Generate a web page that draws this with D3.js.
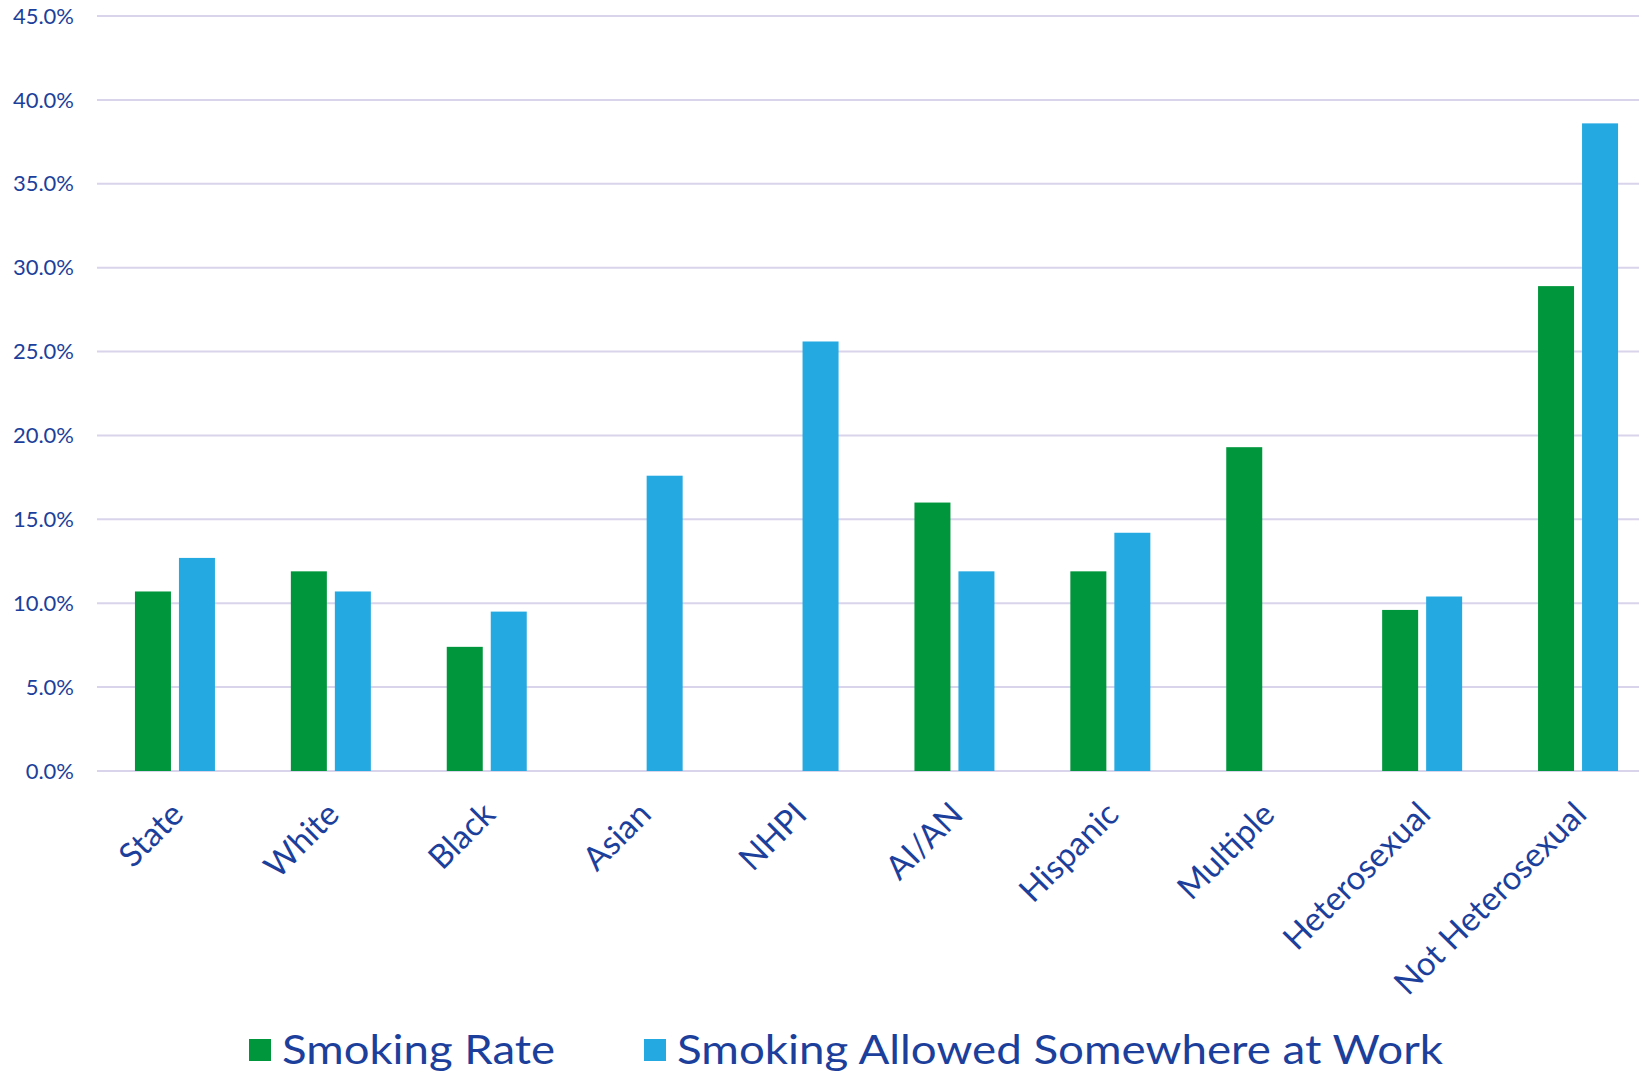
<!DOCTYPE html>
<html>
<head>
<meta charset="utf-8">
<script src="https://cdn.jsdelivr.net/npm/d3@7"></script>
<style>
  body { margin: 0; background: #fff; }
  svg { display: block; }
</style>
</head>
<body>
<div id="chart"></div>
<script>
const categories = ["State", "White", "Black", "Asian", "NHPI", "AI/AN", "Hispanic", "Multiple", "Heterosexual", "Not Heterosexual"];
const smokingRate = [10.7, 11.9, 7.4, null, null, 16.0, 11.9, 19.3, 9.6, 28.9];
const smokingAllowed = [12.7, 10.7, 9.5, 17.6, 25.6, 11.9, 14.2, null, 10.4, 38.6];
const seriesNames = ["Smoking Rate", "Smoking Allowed Somewhere at Work"];
const yTicks = [0, 5, 10, 15, 20, 25, 30, 35, 40, 45];

const width = 1639, height = 1074;
const textColor = "#1d3f9c";
const colors = ["#00963b", "#24a9e0"];
const font = "Lato, 'Open Sans', sans-serif";

const svg = d3.select("#chart").append("svg")
    .attr("width", width)
    .attr("height", height);

const x = d3.scaleBand()
    .domain(categories)
    .range([97, 1656])
    .paddingInner(0)
    .paddingOuter(0);

const y = d3.scaleLinear()
    .domain([0, 45])
    .range([771, 16]);

// grid lines
svg.append("g")
    .selectAll("line")
    .data(yTicks)
    .enter()
    .append("line")
    .attr("x1", 97)
    .attr("x2", width)
    .attr("y1", d => y(d))
    .attr("y2", d => y(d))
    .attr("stroke", "#d9d4ec")
    .attr("stroke-width", 2);

// y labels
svg.append("g")
    .selectAll("text")
    .data(yTicks)
    .enter()
    .append("text")
    .attr("x", 74)
    .attr("y", d => y(d))
    .attr("dy", "0.35em")
    .attr("text-anchor", "end")
    .attr("font-family", font)
    .attr("font-size", 22)
    .attr("fill", textColor)
    .text(d => d.toFixed(1) + "%");

const barWidth = 36, gap = 8;
const series = [smokingRate, smokingAllowed];

series.forEach(function(values, s) {
    svg.append("g")
        .selectAll("rect")
        .data(values.map((v, i) => ({ cat: categories[i], v: v })).filter(d => d.v !== null))
        .enter()
        .append("rect")
        .attr("fill", colors[s])
        .attr("x", function(d) {
            const c = x(d.cat) + x.bandwidth() / 2;
            return s === 0 ? c - gap / 2 - barWidth : c + gap / 2;
        })
        .attr("y", d => y(d.v))
        .attr("width", barWidth)
        .attr("height", d => y(0) - y(d.v));
});

// category labels
svg.append("g")
    .selectAll("text")
    .data(categories)
    .enter()
    .append("text")
    .attr("transform", d => `translate(${x(d) + x.bandwidth() / 2 - 6},${800}) rotate(-45)`)
    .attr("text-anchor", "end")
    .attr("dy", "0.7em")
    .attr("font-family", font)
    .attr("font-size", 33)
    .attr("fill", textColor)
    .text(d => d);

// legend
const legend = [
    { name: seriesNames[0], color: colors[0], sx: 249, tx: 282, tw: 273 },
    { name: seriesNames[1], color: colors[1], sx: 644, tx: 677, tw: 766 }
];
const lg = svg.append("g");
legend.forEach(function(d) {
    lg.append("rect")
        .attr("x", d.sx)
        .attr("y", 1039)
        .attr("width", 22)
        .attr("height", 22)
        .attr("fill", d.color);
    lg.append("text")
        .attr("x", d.tx)
        .attr("y", 1064)
        .attr("font-family", font)
        .attr("font-size", 40)
        .attr("fill", textColor)
        .attr("textLength", d.tw)
        .attr("lengthAdjust", "spacingAndGlyphs")
        .text(d.name);
});
</script>
</body>
</html>
